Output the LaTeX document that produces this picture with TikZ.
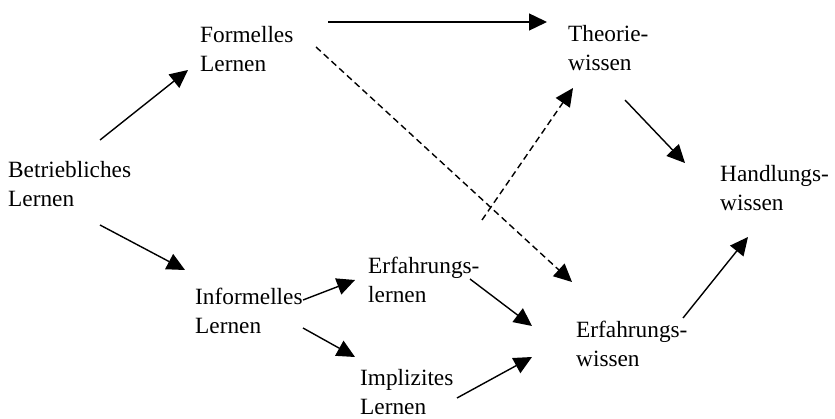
\documentclass[tikz,border=0pt]{standalone}
\usepackage{fontspec}
\setmainfont{Liberation Serif}
\usetikzlibrary{arrows.meta,calc}
\tikzset{
  lbl/.style={anchor=west,align=left,inner sep=0pt,font=\fontsize{23.3}{28.5}\selectfont},
  arr/.style={line width=1.4pt,-{Triangle[length=18pt,width=17pt]}},
  darr/.style={arr,dash pattern=on 6.5pt off 4pt}
}
\begin{document}
\begin{tikzpicture}[x=1pt,y=-1pt]
\useasboundingbox (0,0) rectangle (835,419);
\node[lbl] (form) at (200,49) {Formelles\\Lernen};
\node[lbl] (betr) at (8,184) {Betriebliches\\Lernen};
\node[lbl] (info) at (195,311) {Informelles\\Lernen};
\node[lbl] (erfl) at (368,280) {Erfahrungs-\\lernen};
\node[lbl] (impl) at (360,392) {Implizites\\Lernen};
\node[lbl] (theo) at (568,48) {Theorie-\\wissen};
\node[lbl] (hand) at (720,188) {Handlungs-\\wissen};
\node[lbl] (erfw) at (576,344) {Erfahrungs-\\wissen};
\coordinate (dstart) at ($(erfw.west)+(-94,-124)$);
\draw[arr] ($(betr.west)+(92,-44)$) -- ($(form.west)+(-12,21)$);
\draw[arr] ($(betr.west)+(92,41)$) -- ($(info.west)+(-10,-41)$);
\draw[arr] ($(form.west)+(128,-27)$) -- ($(theo.west)+(-21,-26)$);
\draw[darr] ($(form.west)+(116,-2)$) -- ($(erfw.west)+(-4,-62)$);
\draw[darr] (dstart) -- ($(theo.west)+(5,40)$);
\draw[arr] ($(theo.west)+(57,52)$) -- ($(hand.west)+(-35,-25)$);
\draw[arr] ($(erfw.west)+(107,-26)$) -- ($(hand.west)+(28,49)$);
\draw[arr] ($(info.west)+(108,-11)$) -- ($(erfl.west)+(-13,0)$);
\draw[arr] ($(info.west)+(108,17)$) -- ($(impl.west)+(-5,-35)$);
\draw[arr] ($(erfl.west)+(102,-1)$) -- ($(erfw.west)+(-44,-18)$);
\draw[arr] ($(impl.west)+(97,6)$) -- ($(erfw.west)+(-44,13)$);
\end{tikzpicture}
\end{document}
